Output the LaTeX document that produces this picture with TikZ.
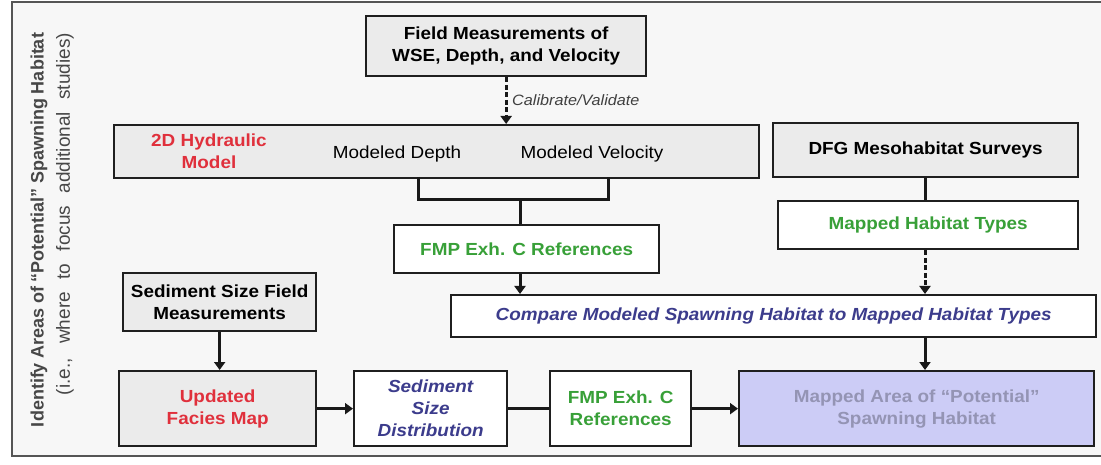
\documentclass[tikz,border=0pt]{standalone}
\usepackage{fontspec}
\setmainfont[FakeStretch=1.08]{Liberation Sans}
\newfontfamily\vertfont{Liberation Sans}
\usetikzlibrary{arrows.meta}
\definecolor{bgc}{HTML}{F7F7F7}
\definecolor{boxgray}{HTML}{EBEBEB}
\definecolor{redt}{HTML}{E0303C}
\definecolor{greent}{HTML}{38A038}
\definecolor{bluet}{HTML}{3C3C8C}
\definecolor{lav}{HTML}{CCCCF6}
\definecolor{lavt}{HTML}{9494B4}
\definecolor{framec}{HTML}{555555}
\begin{document}
\begin{tikzpicture}[x=1pt,y=-1pt,
  box/.style={draw=black!88, line width=2.3pt, inner sep=0pt, anchor=north west,
    align=center, font=\fontsize{17.5}{22}\selectfont\bfseries},
  gbox/.style={box, fill=boxgray},
  wbox/.style={box, fill=white},
  conn/.style={line width=3pt, draw=black!90},
  arr/.style={conn, -{Triangle[width=11pt,length=8pt]}},
  darr/.style={arr, dash pattern=on 5pt off 2.5pt},
  lbl/.style={font=\fontsize{17.5}{22}\selectfont, inner sep=0pt}]
\useasboundingbox (0,0) rectangle (1101,465);
\fill[white] (0,0) rectangle (1101,465);
\fill[bgc] (12,2) rectangle (1101,456);
\draw[framec, line width=1.6pt] (1101,2) -- (12,2) -- (12,456) -- (1101,456);

% side titles
\node[rotate=90, inner sep=0pt, font=\vertfont\fontsize{18}{20}\selectfont\bfseries, text=black!72] (t1) at (39,230) {\makebox[394pt][s]{Identify Areas of “Potential” Spawning Habitat}};
\node[rotate=90, inner sep=0pt, font=\vertfont\fontsize{19}{20}\selectfont, text=black!72] (t2) at (65,214) {\makebox[362pt][s]{(i.e., where to focus additional studies)}};

% boxes
\node[gbox, minimum width=280, minimum height=60] (field) at (365,15) {Field Measurements of\\WSE, Depth, and Velocity};
\node[gbox, minimum width=645, minimum height=53] (hyd) at (113,124) {};
\node[lbl, font=\fontsize{17.5}{22}\selectfont\bfseries, text=redt, align=center] (hydt) at (209,151) {2D Hydraulic\\Model};
\node[lbl] (mdep) at (397,154) {Modeled Depth};
\node[lbl] (mvel) at (592,154) {Modeled Velocity};
\node[gbox, minimum width=305, minimum height=54] (dfg) at (772,122) {DFG Mesohabitat Surveys};
\node[wbox, minimum width=265, minimum height=48, text=greent] (fmp1) at (393,224) {FMP Exh. C References};
\node[wbox, minimum width=300, minimum height=48, text=greent] (maph) at (777,200) {Mapped Habitat Types};
\node[wbox, minimum width=645, minimum height=42, text=bluet, font=\fontsize{17.5}{22}\selectfont\bfseries\itshape] (cmp) at (450,294) {Compare Modeled Spawning Habitat to Mapped Habitat Types};
\node[gbox, minimum width=193, minimum height=58] (sed) at (122,272) {Sediment Size Field\\Measurements};
\node[gbox, minimum width=197, minimum height=75, text=redt] (fac) at (118,370) {Updated\\Facies Map};
\node[wbox, minimum width=153, minimum height=75, text=bluet, font=\fontsize{17.5}{22}\selectfont\bfseries\itshape] (ssd) at (353,370) {Sediment\\Size\\Distribution};
\node[wbox, minimum width=141, minimum height=75, text=greent] (fmp2) at (549,370) {FMP Exh. C\\References};
\node[box, fill=lav, minimum width=355, minimum height=75, text=lavt] (marea) at (738,370) {Mapped Area of “Potential”\\Spawning Habitat};

% connectors
\draw[darr] (field.south) -- (field.south |- hyd.north);
\node[anchor=west, inner sep=0pt, font=\fontsize{15}{17}\selectfont\itshape, text=black!75] (cal) at (512,100) {Calibrate/Validate};

\coordinate (dA) at (418,177);
\coordinate (dB) at (608,177);
\coordinate (jn) at (520,200);
\draw[conn, line join=miter] (dA) |- (jn) -| (dB);
\draw[conn] (jn) -- (jn |- fmp1.north);
\draw[arr] (fmp1.south -| jn) -- (jn |- cmp.north);

\coordinate (rc) at (925,0);
\draw[conn] (rc |- dfg.south) -- (rc |- maph.north);
\draw[darr] (rc |- maph.south) -- (rc |- cmp.north);
\draw[arr] (rc |- cmp.south) -- (rc |- marea.north);

\draw[arr] (sed.south) -- (sed.south |- fac.north);
\draw[arr] (fac.east) -- (ssd.west);
\draw[conn] (ssd.east) -- (fmp2.west);
\draw[arr] (fmp2.east) -- (marea.west);
\end{tikzpicture}
\end{document}
